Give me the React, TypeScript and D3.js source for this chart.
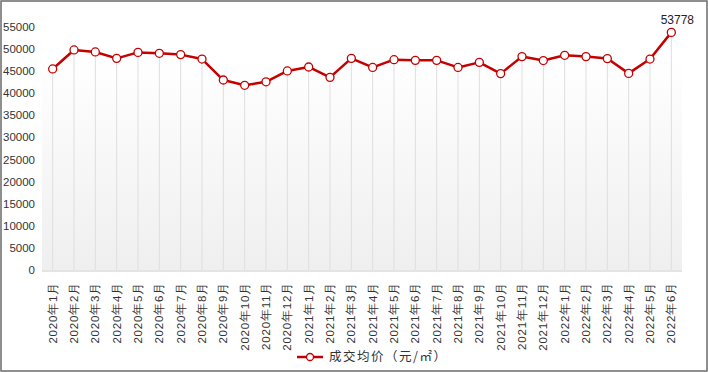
import React from 'react';
import * as d3 from 'd3';

const months: string[] = [
  '2020年1月', '2020年2月', '2020年3月', '2020年4月', '2020年5月', '2020年6月',
  '2020年7月', '2020年8月', '2020年9月', '2020年10月', '2020年11月', '2020年12月',
  '2021年1月', '2021年2月', '2021年3月', '2021年4月', '2021年5月', '2021年6月',
  '2021年7月', '2021年8月', '2021年9月', '2021年10月', '2021年11月', '2021年12月',
  '2022年1月', '2022年2月', '2022年3月', '2022年4月', '2022年5月', '2022年6月',
];

const avgPrice: number[] = [
  45500, 49800, 49350, 47900, 49250, 49050, 48750, 47750, 43000, 41800, 42600, 45050,
  45950, 43600, 47900, 45850, 47600, 47450, 47450, 45850, 47000, 44450, 48300, 47400,
  48600, 48300, 47850, 44500, 47750, 53778,
];

const yTicks: number[] = [0, 5000, 10000, 15000, 20000, 25000, 30000, 35000, 40000, 45000, 50000, 55000];

const seriesName = '成交均价（元/㎡）';

const W = 708;
const H = 372;
const left = 42;
const right = 682;
const top = 27;
const bottom = 270;
const RED = '#c40000';
const FONT = '"Liberation Sans", Arial, sans-serif';

export default function App() {
  const x = d3.scaleBand<string>().domain(months).range([left, right]);
  const y = d3.scaleLinear().domain([0, 55000]).range([bottom, top]);
  const cx = (m: string) => (x(m) ?? 0) + x.bandwidth() / 2;

  const line = d3.line<number>()
    .x((_, i) => cx(months[i]))
    .y(d => y(d));

  const lastI = avgPrice.length - 1;

  return (
    <svg width={W} height={H} style={{ position: 'absolute', left: 0, top: 0 }}>
      <defs>
        <linearGradient id="plotBg" x1="0" y1="0" x2="0" y2="1">
          <stop offset="0" stopColor="#ffffff" />
          <stop offset="1" stopColor="#efefef" />
        </linearGradient>
      </defs>
      <rect x={0} y={0} width={W} height={H} fill="#fff" />
      <rect x={1} y={1} width={W - 2} height={H - 2} fill="none" stroke="#6b6b6b" strokeWidth={1.5} />

      {/* plot background */}
      <rect x={left} y={58} width={right - left} height={bottom - 58} fill="url(#plotBg)" />

      {/* drop lines */}
      {avgPrice.map((v, i) => (
        <line key={'g' + i} x1={cx(months[i])} x2={cx(months[i])} y1={y(v)} y2={bottom}
          stroke="#dedede" strokeWidth={1} />
      ))}

      {/* x axis band */}
      <rect x={left} y={bottom} width={right - left} height={2} fill="#e4e4e4" />

      {/* y ticks */}
      {yTicks.map(t => (
        <text key={'y' + t} x={35} y={y(t)} dy="0.35em" textAnchor="end"
          fontFamily={FONT} fontSize={11.5} fill="#333">{t}</text>
      ))}

      {/* x labels */}
      {months.map(m => (
        <text key={'x' + m} transform={`translate(${cx(m)},${282}) rotate(-90)`}
          textAnchor="end" dominantBaseline="central" letterSpacing={0.8}
          fontFamily={FONT} fontSize={11.5} fill="#333">{m}</text>
      ))}

      {/* series */}
      <path d={line(avgPrice) ?? ''} fill="none" stroke={RED} strokeWidth={2.5} strokeLinejoin="round" />
      {avgPrice.map((v, i) => (
        <circle key={'c' + i} cx={cx(months[i])} cy={y(v)} r={4}
          fill="#fff" stroke={RED} strokeWidth={1.3} />
      ))}
      <text x={cx(months[lastI]) + 6} y={y(avgPrice[lastI]) - 8} textAnchor="middle"
        fontFamily={FONT} fontSize={12} fill="#222">{avgPrice[lastI]}</text>

      {/* legend */}
      <line x1={297} x2={323} y1={357} y2={357} stroke={RED} strokeWidth={2.5} />
      <circle cx={310} cy={357} r={3.5} fill="#fff" stroke={RED} strokeWidth={1.3} />
      <text x={329} y={357} dy="0.35em" fontFamily='"Noto Sans CJK SC", sans-serif'
        fontSize={12.5} letterSpacing={1.5} fill="#333">{seriesName}</text>
    </svg>
  );
}
